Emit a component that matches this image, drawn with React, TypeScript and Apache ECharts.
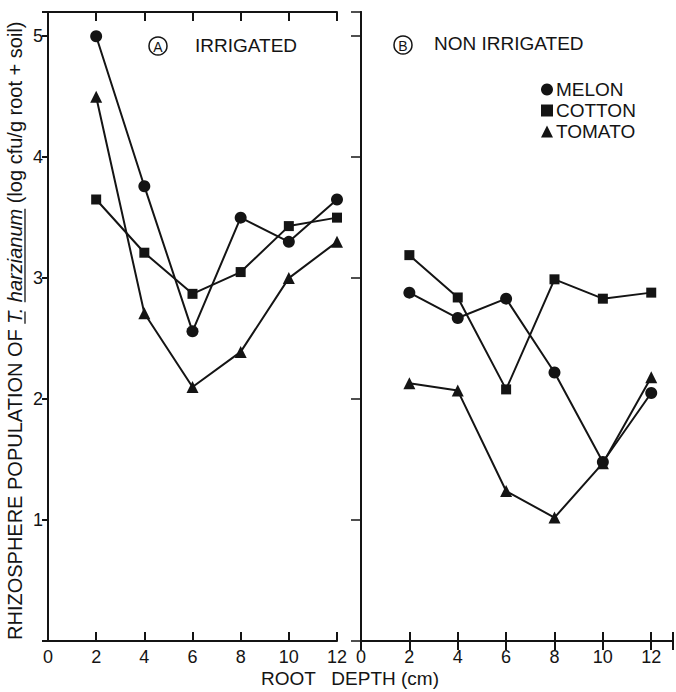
import React, { useEffect, useRef } from "react";
import * as echarts from "echarts";

const depths = [2, 4, 6, 8, 10, 12];
const irrMelon = [5.0, 3.76, 2.56, 3.5, 3.3, 3.65];
const irrCotton = [3.65, 3.21, 2.87, 3.05, 3.43, 3.5];
const irrTomato = [4.5, 2.71, 2.1, 2.39, 3.0, 3.3];
const nonMelon = [2.88, 2.67, 2.83, 2.22, 1.48, 2.05];
const nonCotton = [3.19, 2.84, 2.08, 2.99, 2.83, 2.88];
const nonTomato = [2.13, 2.07, 1.24, 1.02, 1.47, 2.18];
const yTicks = [1, 2, 3, 4, 5];
const xTicks = [0, 2, 4, 6, 8, 10, 12];

const FONT = "Liberation Sans, Arial, sans-serif";
const INK = "#141414";

const pairs = (ys: number[]) => depths.map((d, i) => [d, ys[i]]);

export default function App() {
  const ref = useRef<HTMLDivElement>(null);
  useEffect(() => {
    if (!ref.current) return;
    const chart = echarts.init(ref.current, null, { renderer: "svg" });

    const fs = 20;
    const ctx = document.createElement("canvas").getContext("2d")!;
    ctx.font = `${fs}px ${FONT}`;
    const pre = "RHIZOSPHERE POPULATION OF ";
    const post = " (log cfu/g root + soil)";
    const wPre = ctx.measureText(pre).width;
    ctx.font = `italic ${fs}px ${FONT}`;
    const ital = "T. harzianum";
    const wT = ctx.measureText("T").width;
    const wTdot = ctx.measureText("T. ").width;
    const wHarz = ctx.measureText("harzianum").width;
    const wItal = ctx.measureText(ital).width;
    const ulY = fs * 0.5;

    const axisLine = { show: true, lineStyle: { color: INK, width: 2 } };
    const labelFmt = (v: number) => (xTicks.indexOf(v) >= 0 ? String(v) : "");
    const yFmt = (v: number) => (yTicks.indexOf(v) >= 0 ? String(v) : "");
    const tick = (len: number, inside: boolean, w = 2) => ({
      show: true, inside, length: len, lineStyle: { color: INK, width: w },
    });

    const lineSeries = (name: string, data: number[], symbol: string, size: number, xi: number, yi: number) => ({
      name,
      type: "line",
      xAxisIndex: xi,
      yAxisIndex: yi,
      data: pairs(data),
      symbol,
      symbolSize: size,
      lineStyle: { color: INK, width: 2 },
      itemStyle: { color: INK },
      z: 5,
    });

    const circledLetter = (cx: number, cy: number, letter: string) => [
      { type: "circle", shape: { cx, cy, r: 9 }, style: { fill: "none", stroke: INK, lineWidth: 1.5 } },
      {
        type: "text",
        x: cx,
        y: cy + 0.5,
        style: { text: letter, font: `14px ${FONT}`, fill: INK, align: "center", verticalAlign: "middle" },
      },
    ];

    const labelStyle = { color: INK, fontSize: 18, fontFamily: FONT };

    chart.setOption({
      animation: false,
      backgroundColor: "#ffffff",
      textStyle: { fontFamily: FONT },
      grid: [
        { left: 48, top: 12, width: 289, height: 629 },
        { left: 361, top: 12, width: 314, height: 629 },
      ],
      xAxis: [
        {
          gridIndex: 0, type: "value", position: "bottom", min: 0, max: 12, interval: 2,
          axisLine, axisTick: tick(9, true),
          axisLabel: { ...labelStyle, margin: 7, formatter: labelFmt },
          splitLine: { show: false },
        },
        {
          gridIndex: 0, type: "value", position: "top", min: 0, max: 12, interval: 2,
          axisLine, axisTick: tick(9, true),
          axisLabel: { show: false }, splitLine: { show: false },
        },
        {
          gridIndex: 1, type: "value", position: "bottom", min: 0, max: 12.9, interval: 2,
          axisLine, axisTick: tick(9, true),
          axisLabel: { ...labelStyle, margin: 7, formatter: labelFmt },
          splitLine: { show: false },
        },
        {
          gridIndex: 1, type: "value", position: "top", min: 0, max: 12.9, interval: 2,
          axisLine, axisTick: tick(9, true),
          axisLabel: { show: false }, splitLine: { show: false },
        },
      ],
      yAxis: [
        {
          gridIndex: 0, type: "value", position: "left", min: 0, max: 5.2, interval: 1,
          axisLine, axisTick: tick(6, false),
          axisLabel: { ...labelStyle, margin: 5, formatter: yFmt },
          splitLine: { show: false },
        },
        {
          gridIndex: 1, type: "value", position: "left", min: 0, max: 5.2, interval: 1,
          axisLine, axisTick: { show: false }, axisLabel: { show: false }, splitLine: { show: false },
        },
        {
          gridIndex: 1, type: "value", position: "right", min: 0, max: 5.2, interval: 1,
          axisLine, axisTick: tick(10, true, 1.5),
          axisLabel: { show: false }, splitLine: { show: false },
        },
      ],
      legend: {
        orient: "vertical",
        left: 536,
        top: 75,
        itemGap: 2,
        itemWidth: 12,
        itemHeight: 12,
        textStyle: { fontSize: 19, color: INK, fontFamily: FONT, padding: [0, 0, 0, -2] },
        itemStyle: { color: INK },
        data: [
          { name: "MELON", icon: "circle" },
          { name: "COTTON", icon: "rect" },
          { name: "TOMATO", icon: "triangle" },
        ],
      },
      series: [
        lineSeries("MELON", irrMelon, "circle", 12, 0, 0),
        lineSeries("COTTON", irrCotton, "rect", 10, 0, 0),
        lineSeries("TOMATO", irrTomato, "triangle", 12, 0, 0),
        lineSeries("MELON", nonMelon, "circle", 12, 2, 1),
        lineSeries("COTTON", nonCotton, "rect", 10, 2, 1),
        lineSeries("TOMATO", nonTomato, "triangle", 12, 2, 1),
      ],
      graphic: [
        ...circledLetter(158, 46, "A"),
        {
          type: "text", x: 195, y: 45,
          style: { text: "IRRIGATED", font: `19px ${FONT}`, fill: INK, verticalAlign: "middle" },
        },
        ...circledLetter(403, 45, "B"),
        {
          type: "text", x: 434, y: 43,
          style: { text: "NON IRRIGATED", font: `19px ${FONT}`, fill: INK, verticalAlign: "middle" },
        },
        {
          type: "text", x: 350, y: 678,
          style: { text: "ROOT   DEPTH (cm)", font: `19px ${FONT}`, fill: INK, align: "center", verticalAlign: "middle" },
        },
        {
          type: "group",
          x: 15,
          y: 640,
          rotation: Math.PI / 2,
          children: [
            {
              type: "text", x: 0, y: 0,
              style: { text: pre, font: `${fs}px ${FONT}`, fill: INK, verticalAlign: "middle", align: "left" },
            },
            {
              type: "text", x: wPre, y: 0,
              style: { text: ital, font: `italic ${fs}px ${FONT}`, fill: INK, verticalAlign: "middle", align: "left" },
            },
            {
              type: "text", x: wPre + wItal, y: 0,
              style: { text: post, font: `${fs}px ${FONT}`, fill: INK, verticalAlign: "middle", align: "left" },
            },
            {
              type: "line",
              shape: { x1: wPre, y1: ulY, x2: wPre + wT, y2: ulY },
              style: { stroke: INK, lineWidth: 1.3 },
            },
            {
              type: "line",
              shape: { x1: wPre + wTdot, y1: ulY, x2: wPre + wTdot + wHarz, y2: ulY },
              style: { stroke: INK, lineWidth: 1.3 },
            },
          ],
        },
      ],
    });
    return () => chart.dispose();
  }, []);

  return (
    <div
      ref={ref}
      style={{ position: "fixed", left: 0, top: 0, width: 676, height: 692, background: "#fff" }}
    />
  );
}
